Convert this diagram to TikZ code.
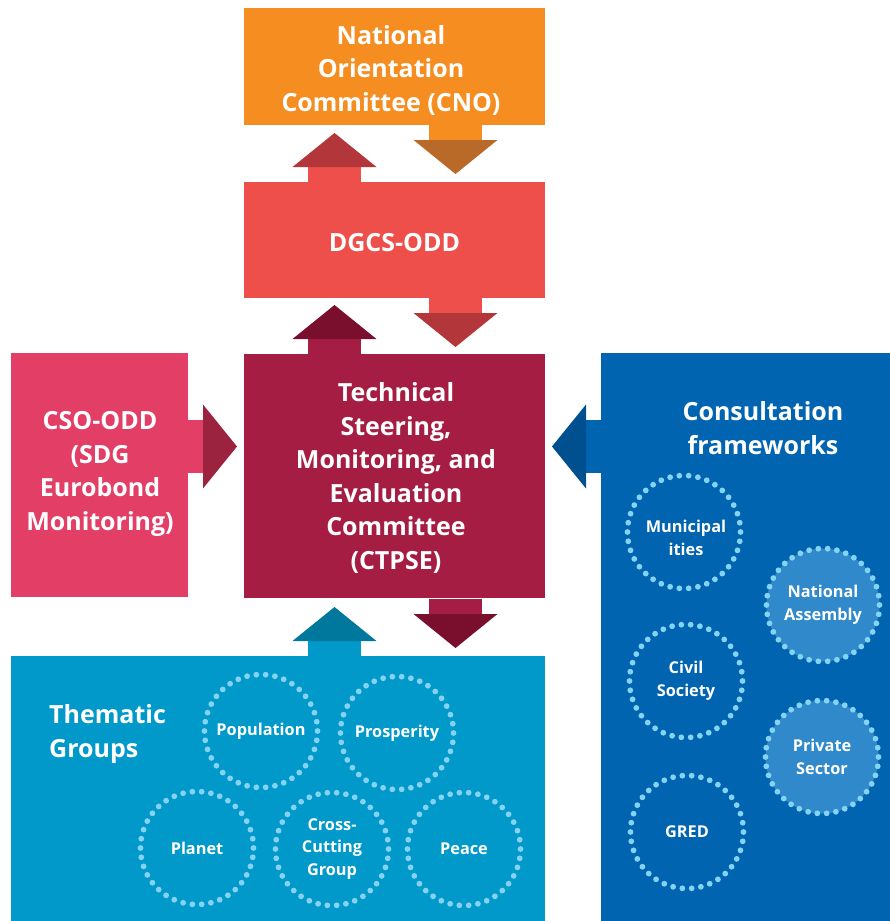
\documentclass[tikz,border=0pt]{standalone}
\usepackage{fontspec}
\setmainfont{Open Sans}
\definecolor{cnoC}{HTML}{F68D21}
\definecolor{cnoH}{HTML}{B96A28}
\definecolor{dgcsC}{HTML}{EF4F4B}
\definecolor{dgcsH}{HTML}{B3373A}
\definecolor{ctpC}{HTML}{A51D42}
\definecolor{ctpH}{HTML}{7A0E2D}
\definecolor{csoC}{HTML}{E23E66}
\definecolor{csoH}{HTML}{9C2340}
\definecolor{themC}{HTML}{0099CA}
\definecolor{themH}{HTML}{00789E}
\definecolor{consC}{HTML}{0064B1}
\definecolor{consH}{HTML}{00508F}
\definecolor{ringF}{HTML}{3089CA}
\definecolor{dotC}{HTML}{85D3F3}
% vertical block arrow: x-centre, start y, direction (+1 down / -1 up), stem colour, head colour
\newcommand\vblockarrow[5]{%
  \fill[#4] (#1-26.5,#2) rectangle (#1+26.5,#2+#3*15.5);
  \fill[#5] (#1-42,#2+#3*15) -- (#1+42,#2+#3*15) -- (#1,#2+#3*49) -- cycle;}
% horizontal block arrow: start x, y-centre, direction (+1 right / -1 left), stem colour, head colour
\newcommand\hblockarrow[5]{%
  \fill[#4] (#1,#2-26.5) rectangle (#1+#3*15.5,#2+26.5);
  \fill[#5] (#1+#3*15,#2-42) -- (#1+#3*15,#2+42) -- (#1+#3*49,#2) -- cycle;}
% ring of dots around a circle node
\newcommand\dotring[1]{%
  \foreach \k in {0,...,37}
    \fill[dotC] ([shift={(\k*360/38:56.5)}]#1.center) circle (2.9);}
\begin{document}
\begin{tikzpicture}[x=1pt,y=-1pt,
  box/.style={rectangle, inner sep=0pt, outer sep=0pt, text=white,
    font=\bfseries\fontsize{25}{33.5}\selectfont, align=center},
  ring/.style={circle, inner sep=0pt, outer sep=0pt, minimum size=113pt,
    text=white, font=\bfseries\fontsize{16.3}{22.5}\selectfont, align=center},
  title/.style={text=white, font=\bfseries\fontsize{25}{33.5}\selectfont, inner sep=0pt}]
\useasboundingbox (0,0) rectangle (890,921);

% main boxes
\node[box, fill=cnoC, minimum width=301pt, minimum height=117pt] (cno) at (394.5,66.5) {};
\node[box, fill=dgcsC, minimum width=301pt, minimum height=116pt] (dgcs) at (394.5,240) {};
\node[box, fill=ctpC, minimum width=301pt, minimum height=244pt] (ctpse) at (394.5,476) {};
\node[box, fill=csoC, minimum width=177pt, minimum height=244pt] (cso) at (99.5,475) {};
\node[box, fill=themC, minimum width=534pt, minimum height=265pt] (them) at (278,788.5) {};
\node[box, fill=consC, minimum width=289pt, minimum height=568pt] (cons) at (745.5,637) {};

% box labels
\node[title, align=center] (cnot) at (391,70) {National\\Orientation\\Committee (CNO)};
\node[title, align=center] (dgcst) at (394.5,243) {DGCS-ODD};
\node[title, align=center] (ctpset) at (396,478) {Technical\\Steering,\\Monitoring, and\\Evaluation\\Committee\\(CTPSE)};
\node[title, align=center] (csot) at (100,474) {CSO-ODD\\(SDG\\Eurobond\\Monitoring)};

% block arrows between the boxes
\vblockarrow{334.5}{182}{-1}{dgcsC}{dgcsH}
\vblockarrow{455.5}{125}{1}{cnoC}{cnoH}
\vblockarrow{334.5}{354}{-1}{ctpC}{ctpH}
\vblockarrow{455.5}{298}{1}{dgcsC}{dgcsH}
\vblockarrow{334.5}{656}{-1}{themC}{themH}
\vblockarrow{455.5}{599}{1}{ctpC}{ctpH}
\hblockarrow{188}{446.5}{1}{csoC}{csoH}
\hblockarrow{601}{446.5}{-1}{consC}{consH}

% group titles
\node[title, anchor=west, align=left] (themt) at (49,734) {Thematic\\Groups};
\node[title, align=center] (const) at (763,428) {Consultation\\frameworks};

% thematic groups
\node[ring] (pop) at (261,731) {Population};
\node[ring] (pros) at (397,733) {Prosperity};
\node[ring] (plan) at (197,848) {Planet};
\node[ring] (cross) at (332,849) {Cross-\\Cutting\\Group};
\node[ring] (peace) at (464,849) {Peace};

% consultation frameworks
\node[ring] (muni) at (684,532) {};
\node[ring] (munit) at (686,538) {Municipal\\ities};
\node[ring, fill=ringF] (assem) at (823,605) {National\\Assembly};
\node[ring] (civil) at (686,681) {Civil\\Society};
\node[ring, fill=ringF] (priv) at (822,757) {Private\\Sector};
\node[ring] (gred) at (687,832) {GRED};

\foreach \n in {pop,pros,plan,cross,peace,muni,assem,civil,priv,gred} {\dotring{\n}}
\end{tikzpicture}
\end{document}
